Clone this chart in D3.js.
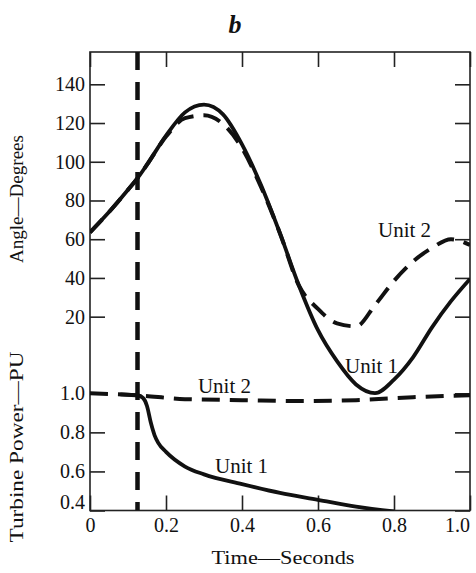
<!DOCTYPE html>
<html>
<head>
<meta charset="utf-8">
<script src="https://cdn.jsdelivr.net/npm/d3@7"></script>
<style>
body{margin:0;background:#fff;}
text{font-family:"Liberation Serif","Times New Roman",serif;fill:#111;}
</style>
</head>
<body>
<script>
/* swing curves, panel b */

// rotor angle, degrees
let angleTime=[0,0.05,0.1,0.125,0.15,0.2,0.25,0.3,0.35,0.4,0.45,0.5,0.55,0.6,0.65,0.7,0.75,0.8,0.85,0.9,0.95,1.0];
let unit1Angle=[63.5,74,85.5,91.5,98.5,113.5,125.5,129.5,124.5,109,88,63,36,13,-3,-15,-19.5,-12.5,-1,14.5,28,39.5];
let unit2Angle=[63.5,74,85.5,91.5,98.5,113,122.5,124,119.5,107,87,63,36,24,16.5,15,26,38.5,48.5,55.5,60,57];

// turbine power, PU
let unit1PowerTime=[0.08,0.125,0.14,0.15,0.16,0.17,0.18,0.2,0.25,0.3,0.4,0.5,0.6,0.7,0.8];
let unit1Power=[0.995,0.99,0.975,0.935,0.85,0.785,0.745,0.70,0.625,0.585,0.535,0.49,0.455,0.42,0.395];
let unit2PowerTime=[0,0.125,0.25,0.4,0.55,0.7,0.85,1.0];
let unit2Power=[1.0,0.99,0.97,0.965,0.96,0.965,0.98,0.99];

let faultTime=0.125;

let timeTicks=[0,0.2,0.4,0.6,0.8,1.0];
let timeLabels=["0","0.2","0.4","0.6","0.8","1.0"];
let angleTicks=[20,40,60,80,100,120,140];
let powerTicks=[0.4,0.6,0.8,1.0];
let powerLabels=["0.4","0.6","0.8","1.0"];

var svg=d3.select("body").append("svg")
    .attr("width",476)
    .attr("height",573);

var fLeft=90, fRight=470, fTop=52, fBottom=510.5;

var x=d3.scaleLinear().domain([0,1]).range([fLeft,fRight]);
var yA=d3.scaleLinear().domain([0,140]).range([355.4,84.3]);
var yP=d3.scaleLinear().domain([0.4,1.0]).range([fBottom,393.3]);

svg.append("clipPath").attr("id","frame")
    .append("rect")
    .attr("x",fLeft).attr("y",fTop)
    .attr("width",fRight-fLeft).attr("height",fBottom-fTop);

// axes, ticks pointing inward
function styleAxis(g){
    g.select(".domain").remove();
    g.selectAll("line").attr("stroke","#222").attr("stroke-width",1.6);
    g.selectAll("text").style("font-size","20px").attr("fill","#111");
}

svg.append("g").attr("transform",`translate(${fLeft},0)`)
    .call(d3.axisLeft(yA).tickValues(angleTicks).tickSizeInner(-15).tickSizeOuter(0).tickPadding(5))
    .call(styleAxis);

svg.append("g").attr("transform",`translate(${fLeft},0)`)
    .call(d3.axisLeft(yP).tickValues(powerTicks).tickSizeInner(-15).tickSizeOuter(0).tickPadding(5)
        .tickFormat((d,i)=>powerLabels[i]))
    .call(styleAxis)
    .selectAll("text").filter(d=>d===0.4).attr("y",-8);

svg.append("g").attr("transform",`translate(${fRight},0)`)
    .call(d3.axisRight(yA).tickValues(angleTicks).tickSizeInner(-15).tickSizeOuter(0).tickFormat(""))
    .call(styleAxis);
svg.append("g").attr("transform",`translate(${fRight},0)`)
    .call(d3.axisRight(yP).tickValues(powerTicks).tickSizeInner(-15).tickSizeOuter(0).tickFormat(""))
    .call(styleAxis);

svg.append("g").attr("transform",`translate(0,${fBottom})`)
    .call(d3.axisBottom(x).tickValues(timeTicks).tickSizeInner(-15).tickSizeOuter(0).tickPadding(7)
        .tickFormat((d,i)=>timeLabels[i]))
    .call(styleAxis)
    .selectAll("text").filter(d=>d===1.0).attr("x",-13);
svg.append("g").attr("transform",`translate(0,${fTop})`)
    .call(d3.axisTop(x).tickValues(timeTicks).tickSizeInner(-15).tickSizeOuter(0).tickFormat(""))
    .call(styleAxis);

svg.append("rect")
    .attr("x",fLeft).attr("y",fTop)
    .attr("width",fRight-fLeft).attr("height",fBottom-fTop)
    .attr("fill","none").attr("stroke","#222").attr("stroke-width",1.6);

// curves
var plot=svg.append("g").attr("clip-path","url(#frame)");

function drawCurve(ts,vs,yScale,dashed){
    var line=d3.line()
        .x(d=>x(d[0]))
        .y(d=>yScale(d[1]))
        .curve(d3.curveMonotoneX);
    plot.append("path")
        .datum(ts.map((t,i)=>[t,vs[i]]))
        .attr("d",line)
        .attr("fill","none")
        .attr("stroke","#111")
        .attr("stroke-width",dashed?4:3.8)
        .attr("stroke-linecap","butt")
        .attr("stroke-dasharray",dashed?"18,10":null);
}

drawCurve(angleTime,unit2Angle,yA,true);
drawCurve(angleTime,unit1Angle,yA,false);
drawCurve(unit2PowerTime,unit2Power,yP,true);
drawCurve(unit1PowerTime,unit1Power,yP,false);

// fault clearing line
plot.append("line")
    .attr("x1",x(faultTime)).attr("x2",x(faultTime))
    .attr("y1",fTop).attr("y2",fBottom)
    .attr("stroke","#111").attr("stroke-width",4.5)
    .attr("stroke-dasharray","18,12");

// unit labels
svg.append("text").attr("x",x(0.758)).attr("y",yA(61.1)).style("font-size","21px").text("Unit 2");
svg.append("text").attr("x",x(0.671)).attr("y",yA(-9.1)).style("font-size","21px").text("Unit 1");
svg.append("text").attr("x",x(0.284)).attr("y",yP(1.0)).style("font-size","21px").text("Unit 2");
svg.append("text").attr("x",x(0.329)).attr("y",yP(0.592)).style("font-size","21px").text("Unit 1");

// titles
svg.append("text").attr("x",235).attr("y",33).attr("text-anchor","middle")
    .style("font-size","26px").style("font-weight","bold").style("font-style","italic")
    .text("b");

svg.append("text").attr("x",283).attr("y",564).attr("text-anchor","middle")
    .style("font-size","19px").attr("textLength",143).attr("lengthAdjust","spacingAndGlyphs")
    .text("Time—Seconds");

svg.append("text").attr("transform","translate(23,199) rotate(-90)").attr("text-anchor","middle")
    .style("font-size","19px").attr("textLength",128).attr("lengthAdjust","spacingAndGlyphs")
    .text("Angle—Degrees");

svg.append("text").attr("transform","translate(23,447) rotate(-90)").attr("text-anchor","middle")
    .style("font-size","19px").attr("textLength",191).attr("lengthAdjust","spacingAndGlyphs")
    .text("Turbine Power—PU");
</script>
</body>
</html>
